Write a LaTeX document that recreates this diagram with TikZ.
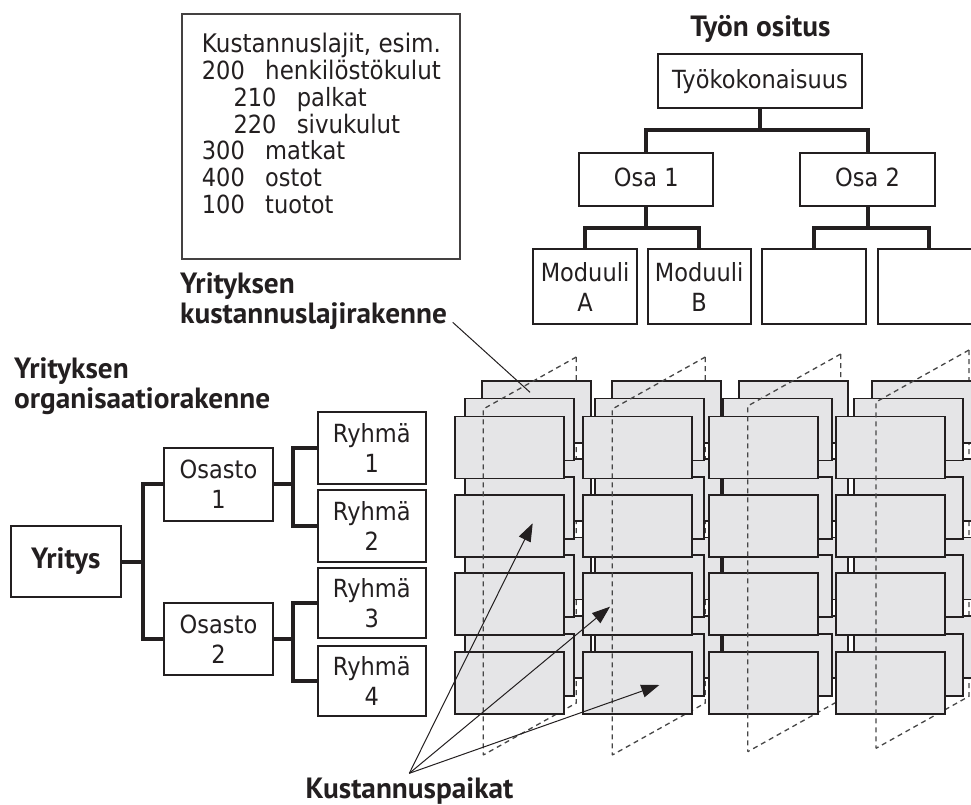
\documentclass[tikz,border=0pt]{standalone}
\usepackage{fontspec}
\usepackage{graphicx}
\setmainfont{PT Sans}
\newfontfamily\regf[FakeStretch=0.9]{DejaVu Sans}
\usetikzlibrary{arrows.meta,calc}
\definecolor{cellgray}{RGB}{229,229,231}
\definecolor{ink}{RGB}{35,31,32}
\definecolor{dashc}{RGB}{70,70,70}
\newcommand{\numcol}[1]{\makebox[63.3pt][l]{#1}}
\newcommand{\fitw}[2]{\resizebox{#1}{!}{#2}}
\tikzset{
  treebox/.style={draw=ink, line width=2pt, fill=white, align=center, inner sep=0pt,
    font=\regf\fontsize{25}{30}\selectfont, text=ink},
  conn/.style={draw=ink, line width=4pt, line cap=butt, line join=miter},
  cell/.style={draw=ink, line width=1.8pt, fill=cellgray, minimum width=109pt,
    minimum height=62pt, anchor=north west, inner sep=0pt},
  plane/.style={draw=dashc, line width=1.3pt, dash pattern=on 5pt off 4pt},
  pointer/.style={draw=ink, line width=1pt, -{Triangle[length=18pt,width=13pt]}},
  titletext/.style={font=\bfseries\fontsize{29.3}{30}\selectfont, inner sep=0pt, text=ink},
  listtext/.style={font=\regf\fontsize{25}{26.8}\selectfont, inner sep=0pt, text=ink, align=left},
}
\begin{document}
\begin{tikzpicture}[x=1pt,y=-1pt]
\useasboundingbox (0,0) rectangle (971,805);
\clip (0,0) rectangle (971,805);

% ---------- cost type box ----------
\node[draw=ink!85, line width=1.5pt, minimum width=278.3pt, minimum height=245pt,
  anchor=north west, inner sep=0pt] (klbox) at (181,13.3) {};
\node[listtext, anchor=north west] (kltext) at (201.7,33)
 {\fitw{239pt}{Kustannuslajit, esim.}\\
  \numcol{200}\fitw{175.7pt}{henkilöstökulut}\\
  \hspace*{31.6pt}\numcol{210}\fitw{70pt}{palkat}\\
  \hspace*{31.6pt}\numcol{220}\fitw{103.3pt}{sivukulut}\\
  \numcol{300}\fitw{80pt}{matkat}\\
  \numcol{400}\fitw{56.7pt}{ostot}\\
  \numcol{100}\fitw{68.3pt}{tuotot}};

% ---------- work breakdown ----------
\node[titletext, anchor=base] (tyotitle) at (760.5,36.7) {Työn ositus};
\node[treebox, minimum width=204.6pt, minimum height=54.3pt] (tyo) at (760,81.2) {Työkokonaisuus};
\node[treebox, minimum width=134pt, minimum height=52.4pt, text depth=4pt] (osa1) at (646.3,179.5) {Osa 1};
\node[treebox, minimum width=135pt, minimum height=52.4pt, text depth=4pt] (osa2) at (867.5,179.5) {Osa 2};
\node[treebox, minimum width=103.4pt, minimum height=74.7pt] (moda) at (585,286.7) {Moduuli\\A};
\node[treebox, minimum width=103pt, minimum height=74.7pt] (modb) at (699.2,286.7) {Moduuli\\B};
\node[treebox, minimum width=103.4pt, minimum height=74.7pt] (m3) at (814,286.7) {};
\node[treebox, minimum width=103.4pt, minimum height=74.7pt] (m4) at (929.3,286.7) {};
\coordinate (barw1) at (0,130);
\coordinate (barw2) at (0,227.7);
\draw[conn] (tyo.south) -- (tyo.south |- barw1);
\draw[conn] (osa1.north) -- (osa1.north |- barw1) -- (osa2.north |- barw1) -- (osa2.north);
\draw[conn] (osa1.south) -- (osa1.south |- barw2);
\draw[conn] (moda.north) -- (moda.north |- barw2) -- (modb.north |- barw2) -- (modb.north);
\draw[conn] (osa2.south) -- (osa2.south |- barw2);
\draw[conn] (m3.north) -- (m3.north |- barw2) -- (m4.north |- barw2) -- (m4.north);

% ---------- titles ----------
\node[titletext, anchor=base west] (kltitle) at (180,293.3)
  {\begin{tabular}[t]{@{}l@{}}Yrityksen\\kustannuslajirakenne\end{tabular}};
\node[titletext, anchor=base west] (orgtitle) at (14,378.3)
  {\begin{tabular}[t]{@{}l@{}}Yrityksen\\organisaatiorakenne\end{tabular}};

% ---------- organisation tree ----------
\node[treebox, minimum width=109.7pt, minimum height=71.6pt, font=\bfseries\fontsize{29.3}{30}\selectfont] (yritys) at (65.8,561.5) {Yritys};
\node[treebox, minimum width=108.4pt, minimum height=73pt] (osasto1) at (218.5,484.2) {Osasto\\1};
\node[treebox, minimum width=108.4pt, minimum height=71.7pt] (osasto2) at (218.5,639.2) {Osasto\\2};
\node[treebox, minimum width=108.3pt, minimum height=71.7pt] (ryhma1) at (371.8,448.2) {Ryhmä\\1};
\node[treebox, minimum width=108.3pt, minimum height=71.7pt] (ryhma2) at (371.8,525.8) {Ryhmä\\2};
\node[treebox, minimum width=108.3pt, minimum height=70.6pt] (ryhma3) at (371.8,603) {Ryhmä\\3};
\node[treebox, minimum width=108.3pt, minimum height=70pt] (ryhma4) at (371.8,680.7) {Ryhmä\\4};
\coordinate (bara) at (143.3,0);
\coordinate (barb) at (293.3,0);
\draw[conn] (yritys.east) -- (yritys.east -| bara);
\draw[conn] (osasto1.west) -- (osasto1.west -| bara) -- (osasto2.west -| bara) -- (osasto2.west);
\draw[conn] (osasto1.east) -- (osasto1.east -| barb);
\draw[conn] (ryhma1.west) -- (ryhma1.west -| barb) -- (ryhma2.west -| barb) -- (ryhma2.west);
\draw[conn] (osasto2.east) -- (osasto2.east -| barb);
\draw[conn] (ryhma3.west) -- (ryhma3.west -| barb) -- (ryhma4.west -| barb) -- (ryhma4.west);

% ---------- 3D cost centre grid ----------
% hidden edges of the slicing planes
\foreach \px/\ty/\by in {483.3/409/755, 612.3/409/755, 747.7/406/751.7, 876/402/748.3}
  \draw[plane] ({\px+93},{\ty-52}) -- ({\px+93},{\by-52}) -- (\px,\by);
% back layer
\foreach \c/\fx/\mdx/\bdx in {1/454/10/26.7, 2/581.7/12.3/29, 3/708.3/13.4/30, 4/835.3/18/35.7}
  \foreach \r in {1,...,4}
    \node[cell] (back-\c-\r) at ({\fx+\bdx},{415.5+78.4*(\r-1)-35.7}) {};
% middle layer
\foreach \c/\fx/\mdx/\bdx in {1/454/10/26.7, 2/581.7/12.3/29, 3/708.3/13.4/30, 4/835.3/18/35.7}
  \foreach \r in {1,...,4}
    \node[cell] (mid-\c-\r) at ({\fx+\mdx},{415.5+78.4*(\r-1)-18}) {};
% front layer
\foreach \c/\fx in {1/454, 2/581.7, 3/708.3, 4/835.3}
  \foreach \r in {1,...,4}
    \node[cell] (front-\c-\r) at (\fx,{415.5+78.4*(\r-1)}) {};
% visible edges of the slicing planes
\foreach \px/\ty/\by in {483.3/409/755, 612.3/409/755, 747.7/406/751.7, 876/402/748.3}
  \draw[plane] ({\px+93},{\ty-52}) -- (\px,\ty) -- (\px,\by);

% ---------- leader and pointers ----------
\coordinate (leadA) at (452.7,322.3);
\coordinate (leadB) at (530,392.3);
\draw[ink, line width=1pt] (leadA) -- (leadB);

\node[titletext, anchor=base] (kp) at (409.5,798.3) {Kustannuspaikat};
\coordinate (apex) at (409.3,773.3);
\coordinate (t1) at (532.7,523.3);
\coordinate (t2) at (610,606.7);
\coordinate (t3) at (659.3,685);
\draw[pointer] (apex) -- (t1);
\draw[pointer] (apex) -- (t2);
\draw[pointer] (apex) -- (t3);
\end{tikzpicture}
\end{document}
